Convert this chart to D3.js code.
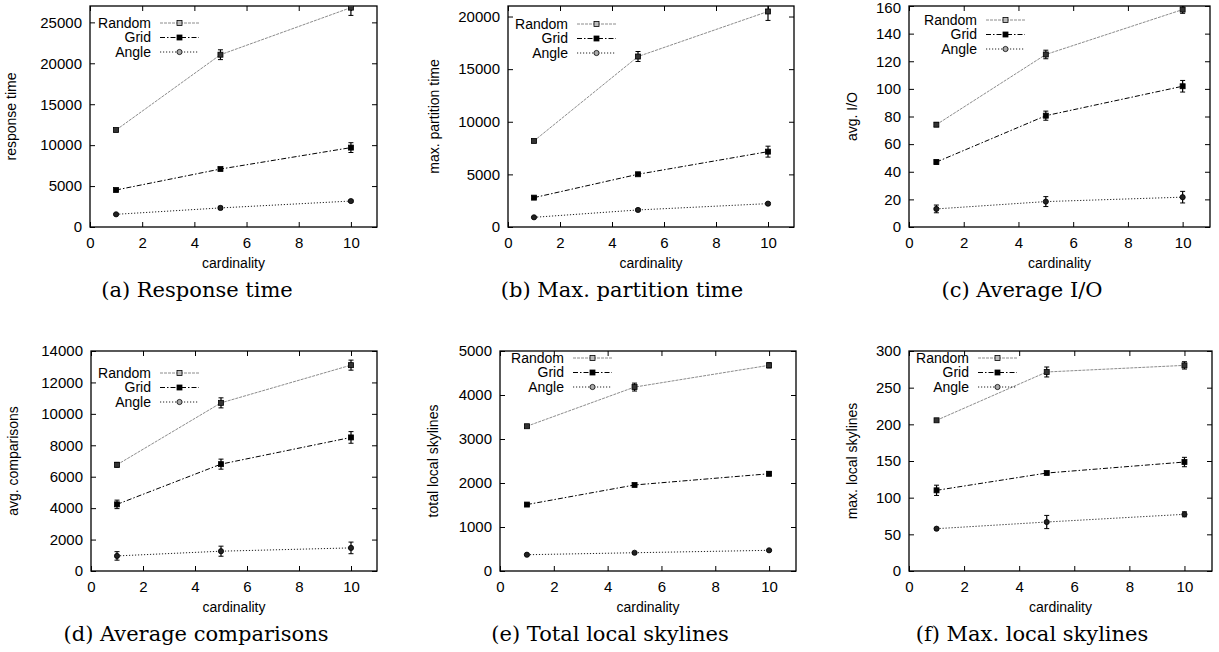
<!DOCTYPE html>
<html>
<head>
<meta charset="utf-8">
<script src="https://cdn.jsdelivr.net/npm/d3@7"></script>
<style>
    body { margin: 0; background: #fff; }
    svg { display: block; }
    text { font-family: "Liberation Sans", Arial, sans-serif; fill: #000; }
    .caption { font-family: "DejaVu Serif", "Liberation Serif", serif; font-size: 21px; }
</style>
</head>
<body>
<svg id="chart" width="1219" height="652"></svg>
<script>
// x values shared by every panel
const cardinality = [1, 5, 10];
const series_names = ["Random", "Grid", "Angle"];

// one row per series (Random, Grid, Angle)
const response_time = [[11850, 21050, 26800], [4520, 7080, 9700], [1550, 2330, 3170]];
const response_time_err = [[150, 600, 950], [100, 150, 600], [80, 200, 120]];
const partition_time = [[8180, 16200, 20480], [2790, 5010, 7160], [920, 1620, 2220]];
const partition_time_err = [[120, 475, 850], [80, 100, 520], [60, 100, 100]];
const avg_io = [[74.1, 124.9, 157.4], [47, 80.6, 101.9], [13.1, 18.4, 21.6]];
const avg_io_err = [[1.5, 3.1, 2.7], [1.5, 3.3, 4.2], [2.8, 3.6, 4.2]];
const avg_comparisons = [[6760, 10700, 13100], [4240, 6800, 8500], [960, 1260, 1470]];
const avg_comparisons_err = [[150, 320, 320], [270, 320, 370], [270, 320, 370]];
const total_skylines = [[3290, 4180, 4675], [1510, 1955, 2210], [370, 415, 470]];
const total_skylines_err = [[30, 90, 60], [20, 20, 45], [15, 15, 15]];
const max_skylines = [[205.5, 271.4, 280.4], [110, 133.6, 148.6], [57.7, 66.8, 77.3]];
const max_skylines_err = [[1.5, 6.8, 5], [7, 1.5, 6.4], [1.5, 9, 3.4]];

const captions = ["(a) Response time", "(b) Max. partition time", "(c) Average I/O",
    "(d) Average comparisons", "(e) Total local skylines", "(f) Max. local skylines"];
const y_labels = ["response time", "max. partition time", "avg. I/O",
    "avg. comparisons", "total local skylines", "max. local skylines"];
const y_max = [27000, 21000, 160, 14000, 5000, 300];
const y_step = [5000, 5000, 20, 2000, 1000, 50];
const x_ticks = [0, 2, 4, 6, 8, 10];

const values = [response_time, partition_time, avg_io, avg_comparisons, total_skylines, max_skylines];
const errors = [response_time_err, partition_time_err, avg_io_err, avg_comparisons_err, total_skylines_err, max_skylines_err];

// panel placement
const layout = [
    {left: 90, top: 6, width: 287, height: 221, ylab: 11, cap: 197, key_x: 61, key_y: 17},
    {left: 508, top: 6, width: 286, height: 221, ylab: 434, cap: 622, key_x: 60, key_y: 18},
    {left: 909, top: 6, width: 301, height: 221, ylab: 852, cap: 1022, key_x: 68, key_y: 14},
    {left: 91, top: 351, width: 286, height: 220, ylab: 13, cap: 196, key_x: 60, key_y: 22},
    {left: 500, top: 351, width: 296, height: 220, ylab: 433, cap: 610, key_x: 64, key_y: 7},
    {left: 909, top: 351, width: 303, height: 220, ylab: 852, cap: 1032, key_x: 60, key_y: 7}
];

const styles = [
    {stroke: "#8c8c8c", dash: "3,1", marker: "square", fill: "#333", key_fill: "#bbb"},
    {stroke: "#000", dash: "5,2,1.5,2", marker: "square", fill: "#000", key_fill: "#000"},
    {stroke: "#222", dash: "1.2,1.8", marker: "circle", fill: "#222", key_fill: "#aaa"}
];

const svg = d3.select("#chart");

const draw_marker = (sel, cx, cy, st, fill) => {
    if (st.marker == "square") {
        sel.append("rect")
            .attr("x", cx - 2.5).attr("y", cy - 2.5)
            .attr("width", 5).attr("height", 5)
            .attr("fill", fill).attr("stroke", "#000").attr("stroke-width", 0.8);
    } else {
        sel.append("circle")
            .attr("cx", cx).attr("cy", cy).attr("r", 2.6)
            .attr("fill", fill).attr("stroke", "#000").attr("stroke-width", 0.8);
    }
}

const render_panel = (p) => {
    const L = layout[p];
    const g = svg.append("g").attr("transform", `translate(${L.left},${L.top})`);
    const x = d3.scaleLinear().domain([0, 11]).range([0, L.width]);
    const y = d3.scaleLinear().domain([0, y_max[p]]).range([L.height, 0]);
    const y_ticks = d3.range(0, y_max[p] + 1e-9, y_step[p]);

    g.append("clipPath").attr("id", "clip" + p)
        .append("rect").attr("width", L.width).attr("height", L.height);

    // axes, gnuplot style: ticks inward on all four sides
    const bottom = g.append("g").attr("transform", `translate(0,${L.height})`)
        .call(d3.axisBottom(x).tickValues(x_ticks).tickSize(-5).tickPadding(10));
    const top = g.append("g").call(d3.axisTop(x).tickValues(x_ticks).tickSize(-5).tickFormat(""));
    const left = g.append("g")
        .call(d3.axisLeft(y).tickValues(y_ticks).tickSize(-5).tickPadding(8).tickFormat(d3.format("d")));
    const right = g.append("g").attr("transform", `translate(${L.width},0)`)
        .call(d3.axisRight(y).tickValues(y_ticks).tickSize(-5).tickFormat(""));
    [bottom, top, left, right].forEach(a => {
        a.select(".domain").remove();
        a.selectAll("line").attr("stroke", "#000").attr("stroke-width", 1);
        a.selectAll("text").attr("font-size", 15).attr("font-family", "Liberation Sans, Arial, sans-serif");
    });
    // keep the top tick label inside the page
    left.selectAll(".tick text").filter(d => d == y_max[p] && L.top < 10).attr("dy", "0.45em");

    g.append("rect").attr("width", L.width).attr("height", L.height)
        .attr("fill", "none").attr("stroke", "#000").attr("stroke-width", 1.3);

    // series
    const plot = g.append("g").attr("clip-path", `url(#clip${p})`);
    const line = d3.line().x(d => x(d[0])).y(d => y(d[1]));
    values[p].forEach((row, s) => {
        const st = styles[s];
        const pts = cardinality.map((c, k) => [c, row[k], errors[p][s][k]]);
        plot.append("path").datum(pts).attr("d", line)
            .attr("fill", "none").attr("stroke", st.stroke)
            .attr("stroke-width", 1).attr("stroke-dasharray", st.dash);
        pts.forEach(d => {
            const cx = x(d[0]);
            const y0 = y(d[1] - d[2]);
            const y1 = y(d[1] + d[2]);
            plot.append("line").attr("x1", cx).attr("x2", cx).attr("y1", y0).attr("y2", y1)
                .attr("stroke", "#000").attr("stroke-width", 1.2);
            [y0, y1].forEach(yy => {
                plot.append("line").attr("x1", cx - 2.5).attr("x2", cx + 2.5).attr("y1", yy).attr("y2", yy)
                    .attr("stroke", "#000").attr("stroke-width", 1);
            });
            draw_marker(plot, cx, y(d[1]), st, st.fill);
        });
    });

    // legend
    series_names.forEach((name, s) => {
        const st = styles[s];
        const ly = L.key_y + s * 14.5;
        g.append("text").attr("x", L.key_x).attr("y", ly).attr("dy", "0.35em")
            .attr("text-anchor", "end").attr("font-size", 14).text(name);
        g.append("line").attr("x1", L.key_x + 9).attr("x2", L.key_x + 48)
            .attr("y1", ly).attr("y2", ly)
            .attr("stroke", st.stroke).attr("stroke-width", 1).attr("stroke-dasharray", st.dash);
        draw_marker(g, L.key_x + 28.5, ly, st, st.key_fill);
    });

    // axis titles and caption
    svg.append("text")
        .attr("transform", `translate(${L.ylab},${L.top + L.height / 2}) rotate(-90)`)
        .attr("dy", "0.35em").attr("text-anchor", "middle").attr("font-size", 14)
        .text(y_labels[p]);
    svg.append("text")
        .attr("x", L.left + L.width / 2).attr("y", L.top + L.height + 40.5)
        .attr("text-anchor", "middle").attr("font-size", 14)
        .text("cardinality");
    svg.append("text").attr("class", "caption")
        .attr("x", L.cap).attr("y", L.top + L.height + 69.5)
        .attr("text-anchor", "middle")
        .text(captions[p]);
}

d3.range(6).forEach(render_panel);
</script>
</body>
</html>
